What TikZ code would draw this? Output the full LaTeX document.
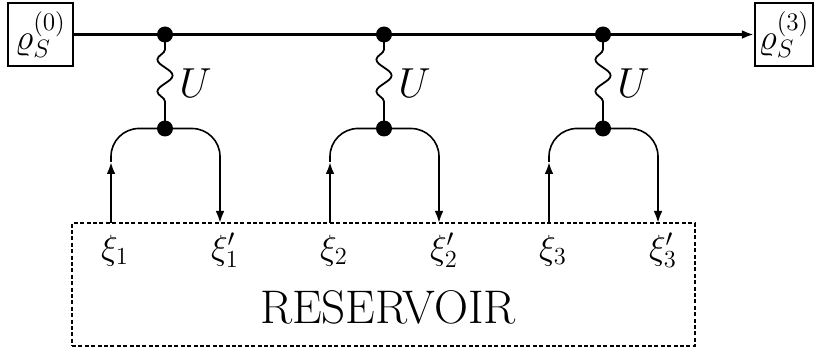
\RequirePackage{fix-cm}
\documentclass[tikz,border=0pt]{standalone}
\usetikzlibrary{arrows.meta,decorations.pathmorphing}
\tikzset{
  mainline/.style={line width=1.15pt},
  arr/.style={-{Latex[length=6pt,width=4.4pt]}},
  dotnode/.style={circle,fill,inner sep=0pt,minimum size=8pt},
  wave/.style={line width=0.9pt,decorate,decoration={snake,amplitude=-3.8pt,segment length=16pt,pre length=7.5pt,post length=8pt}},
  loopline/.style={line width=0.8pt,rounded corners=14pt},
  statebox/.style={draw,line width=1.1pt,inner sep=0pt,minimum height=31.5pt,font=\fontsize{18}{20}\selectfont},
  resbox/.style={draw,line width=1pt,dash pattern=on 2pt off 1.2pt,inner sep=0pt,minimum width=311.5pt,minimum height=61.5pt},
  xilabel/.style={anchor=base,inner sep=0pt,font=\fontsize{17.5}{20}\selectfont},
  ulabel/.style={anchor=base west,inner sep=0pt,font=\fontsize{21}{24}\selectfont},
  reslabel/.style={anchor=base,inner sep=0pt,font=\fontsize{23.6}{26}\selectfont},
}
\begin{document}
\begin{tikzpicture}[x=0.5pt,y=-0.5pt]
\useasboundingbox (0,0) rectangle (815,353);
% boxes
\node[statebox,minimum width=32.5pt] (in) at (40.5,34.5) {$\varrho_S^{(0)}$};
\node[statebox,minimum width=29pt] (out) at (784,34.5) {$\varrho_S^{(3)}$};
\node[resbox] (res) at (383.5,284.5) {};
\node[reslabel] (rtext) at (388,323) {RESERVOIR};
% main line
\draw[mainline,arr] (in.east) -- (out.west);
\foreach \i/\x in {1/165,2/384,3/603}{
  \coordinate (t\i) at (\x,34.5);
  \coordinate (b\i) at (\x,128.5);
  \coordinate (l\i) at ({\x-54},162);
  \coordinate (r\i) at ({\x+55},160);
  \coordinate (ls\i) at ({\x-54},223);
  \coordinate (re\i) at ({\x+55},223);
  \draw[wave] (t\i) -- (b\i);
  \draw[loopline] (l\i) |- (b\i) -| (r\i);
  \draw[mainline,arr] (ls\i) -- (l\i);
  \draw[mainline,arr] (r\i) -- (re\i);
  \node[dotnode] (td\i) at (t\i) {};
  \node[dotnode] (bd\i) at (b\i) {};
  \node[ulabel] (u\i) at ({\x+14},98) {$U$};
  \node[xilabel] (xi\i) at ({\x-50},259) {$\xi_\i$};
  \node[xilabel] (xp\i) at ({\x+60},259) {$\xi'_\i$};
}
\end{tikzpicture}
\end{document}
